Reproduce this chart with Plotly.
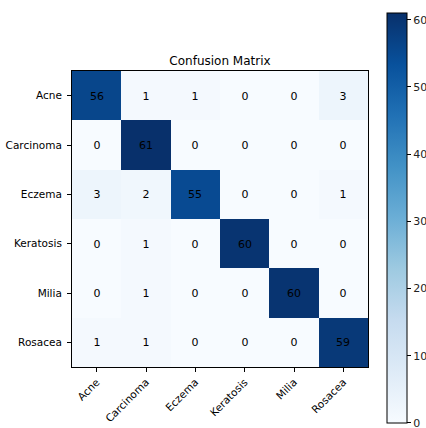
import plotly.graph_objects as go

classes = ["Acne", "Carcinoma", "Eczema", "Keratosis", "Milia", "Rosacea"]

# rows = true label, columns = predicted label
counts = [
    [56, 1, 1, 0, 0, 3],
    [0, 61, 0, 0, 0, 0],
    [3, 2, 55, 0, 0, 1],
    [0, 1, 0, 60, 0, 0],
    [0, 1, 0, 0, 60, 0],
    [1, 1, 0, 0, 0, 59],
]

blues = [
    "rgb(247,251,255)", "rgb(222,235,247)", "rgb(198,219,239)",
    "rgb(158,202,225)", "rgb(107,174,214)", "rgb(66,146,198)",
    "rgb(33,113,181)", "rgb(8,81,156)", "rgb(8,48,107)",
]
scale = [[i / (len(blues) - 1), c] for i, c in enumerate(blues)]

W, H = 426, 428
L, R, T, B = 72, 368, 71, 367
pw = R - L
ph = B - T

fig = go.Figure(
    go.Heatmap(
        z=counts,
        x=classes,
        y=classes,
        colorscale=scale,
        zmin=-0.02,
        zmax=max(max(r) for r in counts),
        texttemplate="%{z}",
        textfont=dict(color="black", size=11, family="DejaVu Sans"),
        hoverongaps=False,
        colorbar=dict(
            thicknessmode="pixels",
            thickness=20,
            lenmode="pixels",
            len=410,
            x=(387 - L) / pw,
            xanchor="left",
            xpad=0,
            y=(B - 13) / ph,
            yanchor="top",
            ypad=0,
            outlinewidth=1,
            outlinecolor="black",
            ticks="outside",
            ticklen=4,
            tickcolor="black",
            tickmode="linear",
            tick0=0,
            dtick=10,
            ticklabeloverflow="allow",
            tickfont=dict(size=11, family="DejaVu Sans", color="#222"),
        ),
    )
)

axis_common = dict(
    showline=True,
    linecolor="black",
    linewidth=1,
    mirror=True,
    ticks="outside",
    ticklen=4,
    tickcolor="black",
    showgrid=False,
    zeroline=False,
    automargin=False,
    tickfont=dict(size=10.5, family="DejaVu Sans", color="black"),
)

fig.update_layout(
    width=W,
    height=H,
    margin=dict(l=L, r=W - R, t=T, b=H - B, autoexpand=False),
    paper_bgcolor="white",
    plot_bgcolor="white",
    font=dict(family="DejaVu Sans", color="black"),
    title=dict(
        text="Confusion Matrix",
        x=(L + R) / 2 / W,
        xanchor="center",
        y=1 - 61 / H,
        yanchor="middle",
        font=dict(size=12, family="DejaVu Sans", color="black"),
    ),
    xaxis=dict(axis_common, tickangle=-45),
    yaxis=dict(axis_common, autorange="reversed", ticklabelstandoff=3),
)

fig.write_html("out.html")
